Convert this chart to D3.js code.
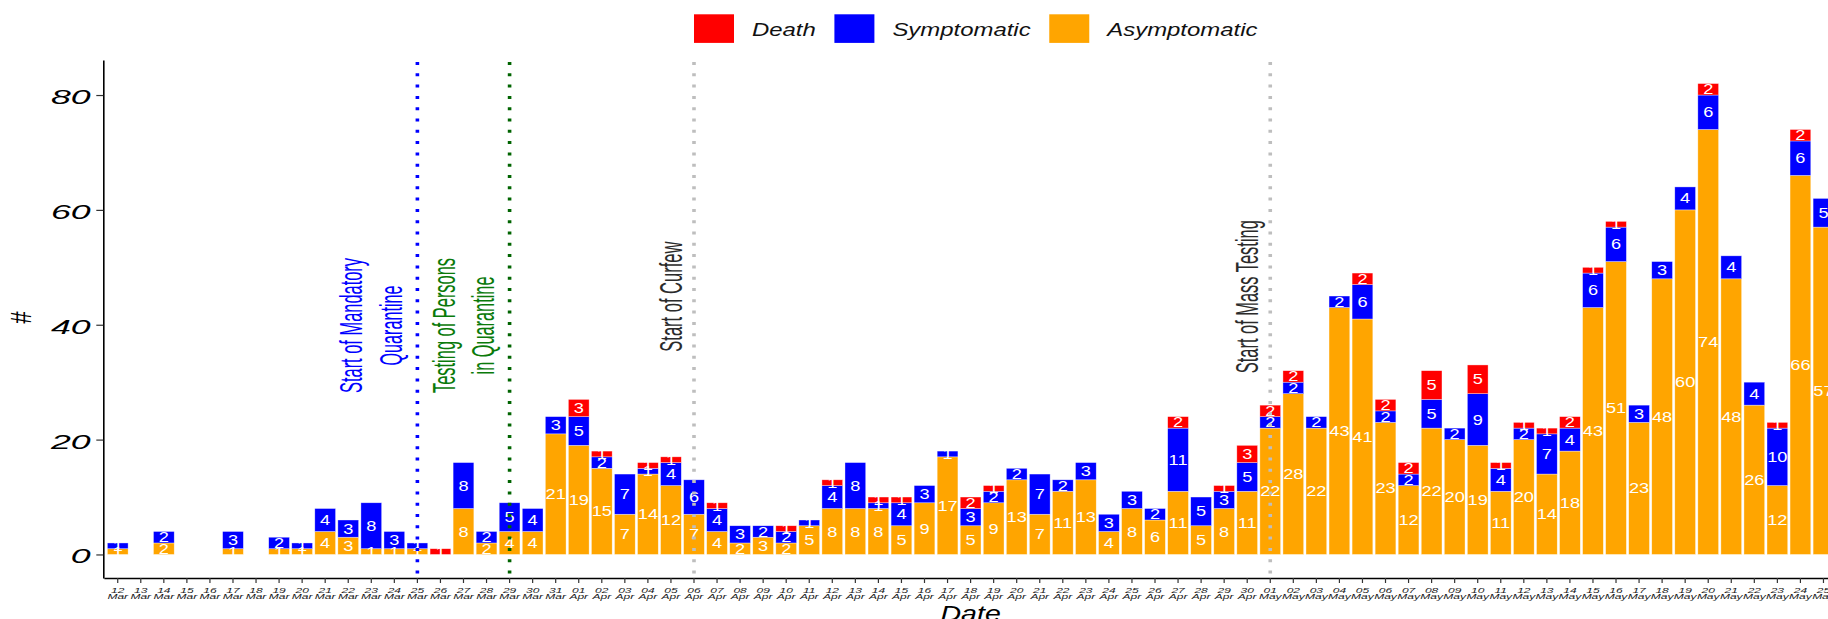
<!DOCTYPE html>
<html><head><meta charset="utf-8">
<script src="https://cdn.jsdelivr.net/npm/d3@7"></script>
<style>
body{margin:0;background:#fff;}
svg{display:block;font-family:"Liberation Sans",Arial,Helvetica,sans-serif;}
</style>
</head><body>
<svg id="chart" width="1828" height="619"></svg>
<script>
// ---------------- DATA ----------------
const dates = [
 "12 Mar","13 Mar","14 Mar","15 Mar","16 Mar","17 Mar","18 Mar","19 Mar","20 Mar","21 Mar",
 "22 Mar","23 Mar","24 Mar","25 Mar","26 Mar","27 Mar","28 Mar","29 Mar","30 Mar","31 Mar",
 "01 Apr","02 Apr","03 Apr","04 Apr","05 Apr","06 Apr","07 Apr","08 Apr","09 Apr","10 Apr",
 "11 Apr","12 Apr","13 Apr","14 Apr","15 Apr","16 Apr","17 Apr","18 Apr","19 Apr","20 Apr",
 "21 Apr","22 Apr","23 Apr","24 Apr","25 Apr","26 Apr","27 Apr","28 Apr","29 Apr","30 Apr",
 "01 May","02 May","03 May","04 May","05 May","06 May","07 May","08 May","09 May","10 May",
 "11 May","12 May","13 May","14 May","15 May","16 May","17 May","18 May","19 May","20 May",
 "21 May","22 May","23 May","24 May","25 May"
];
const asymptomatic = [
 1,0,2,0,0,1,0,1,1,4, 3,1,1,1,0,8,2,4,4,21,
 19,15,7,14,12,7,4,2,3,2, 5,8,8,8,5,9,17,5,9,13, 7,11,13,4,8,6,11,5,8,11,
 22,28,22,43,41,23,12,22,20,19, 11,20,14,18,43,51,23,48,60,74, 48,26,12,66,57
];
const symptomatic = [
 1,0,2,0,0,3,0,2,1,4, 3,8,3,1,0,8,2,5,4,3,
 5,2,7,1,4,6,4,3,2,2, 1,4,8,1,4,3,1,3,2,2, 7,2,3,3,3,2,11,5,3,5,
 2,2,2,2,6,2,2,5,2,9, 4,2,7,4,6,6,3,3,4,6, 4,4,10,6,5
];
const death = [
 0,0,0,0,0,0,0,0,0,0, 0,0,0,0,1,0,0,0,0,0,
 3,1,0,1,1,0,1,0,0,1, 0,1,0,1,1,0,0,2,1,0, 0,0,0,0,0,0,2,0,1,3,
 2,2,0,0,2,2,2,5,0,5, 1,1,1,2,1,1,0,0,0,2, 0,0,1,2,0
];
const seriesKeys = ["Asymptomatic","Symptomatic","Death"];
const legendOrder = ["Death","Symptomatic","Asymptomatic"];
const colors = {Death:"#FF0000", Symptomatic:"#0000FF", Asymptomatic:"#FFA500"};
const yTicks = [0,20,40,60,80];
const eventDates = ["25 Mar","29 Mar","06 Apr","01 May"];
const eventTexts = [["Start of Mandatory","Quarantine"],["Testing of Persons","in Quarantine"],["Start of Curfew"],["Start of Mass Testing"]];
const eventColors = ["#0000FF","#006400","#BEBEBE","#BEBEBE"];
const eventTextColors = ["#0000FF","#0a7a0a","#2b2b2b","#2b2b2b"];

// ---------------- LAYOUT ----------------
const svg = d3.select("#chart");
const P = {left:103.9, right:1837.3, top:60, bottom:578};

const rows = dates.map((d,i)=>({date:d, Asymptomatic:asymptomatic[i], Symptomatic:symptomatic[i], Death:death[i]}));
const stacked = d3.stack().keys(seriesKeys)(rows);

const x = d3.scaleBand().domain(dates).range([P.left,P.right]).paddingInner(0.1).paddingOuter(0.15).align(0.5);
const y = d3.scaleLinear().domain([-4.1, 86.1]).range([P.bottom, P.top]);

// bars
const gBars = svg.append("g");
stacked.forEach(s=>{
  gBars.append("g").selectAll("rect")
    .data(s.filter(d=>d[1]-d[0]>0))
    .join("rect")
    .attr("x", d=>x(d.data.date))
    .attr("width", x.bandwidth())
    .attr("y", d=>y(d[1]))
    .attr("height", d=>y(d[0])-y(d[1]))
    .attr("fill", colors[s.key])
    .attr("stroke","#ffffff").attr("stroke-opacity",0.6).attr("stroke-width",0.6);
});

// value labels
const gLab = svg.append("g");
stacked.forEach(s=>{
  gLab.append("g").selectAll("text")
    .data(s.filter(d=>d[1]-d[0]>0))
    .join("text")
    .attr("transform", d=>`translate(${x(d.data.date)+x.bandwidth()/2},${y((d[0]+d[1])/2)}) scale(1.3,1)`)
    .attr("text-anchor","middle")
    .attr("dy","0.36em")
    .attr("font-size",14)
    .attr("fill","#ffffff")
    .text(d=>d[1]-d[0]);
});

// event lines
const gEv = svg.append("g");
eventDates.forEach((ed,i)=>{
  const cx = x(ed)+x.bandwidth()/2;
  gEv.append("line")
    .attr("x1",cx).attr("x2",cx).attr("y1",P.top+2).attr("y2",P.bottom)
    .attr("stroke",eventColors[i]).attr("stroke-width",3.6)
    .attr("stroke-dasharray","3,8.3");
});

// event annotations (rotated)
const annLen = [[135,80],[135,98],[110],[153]];
eventDates.forEach((ed,i)=>{
  const cx = x(ed)+x.bandwidth()/2;
  const lines = eventTexts[i];
  const cy = lines.length===2 ? 325.5 : 296.7;
  const offs = lines.length===2 ? [-55,-15.5] : [-12.3];
  lines.forEach((t,j)=>{
    svg.append("text")
      .attr("transform",`translate(${cx+offs[j]},${cy}) scale(1.85,1) rotate(-90)`)
      .attr("text-anchor","middle")
      .attr("font-size",16.5)
      .attr("textLength",annLen[i][j])
      .attr("lengthAdjust","spacingAndGlyphs")
      .attr("fill",eventTextColors[i])
      .text(t);
  });
});

// y axis
const gy = svg.append("g").attr("transform",`translate(${P.left-0.6},0)`)
  .call(d3.axisLeft(y).tickValues(yTicks).tickSize(7).tickSizeOuter(0));
gy.select(".domain").attr("stroke","#000").attr("stroke-width",1.6);
gy.selectAll(".tick line").attr("stroke","#333").attr("stroke-width",1.2);
gy.selectAll(".tick text")
  .attr("x",null).attr("dy",null)
  .attr("transform","translate(-12.6,8.5) scale(1.7,1)")
  .attr("text-anchor","end")
  .attr("font-size",21).attr("font-style","italic")
  .attr("font-family","'Liberation Sans',Arial,sans-serif")
  .attr("fill","#000");

// x axis
const gx = svg.append("g").attr("transform",`translate(0,${P.bottom})`)
  .call(d3.axisBottom(x).tickSize(5).tickSizeOuter(0).tickFormat(""));
gx.select(".domain").attr("stroke","#000").attr("stroke-width",1.6);
gx.selectAll(".tick line").attr("stroke","#333").attr("stroke-width",1.2);
gx.selectAll(".tick").each(function(d){
  const parts = d.split(" ");
  const g = d3.select(this);
  g.append("text").attr("transform","translate(0,14.5) scale(1.6,1)")
    .attr("text-anchor","middle").attr("font-size",7.5).attr("font-style","italic")
    .attr("font-family","'Liberation Sans',Arial,sans-serif").attr("fill","#1a1a1a").text(parts[0]);
  g.append("text").attr("transform","translate(0,21.3) scale(1.6,1)")
    .attr("text-anchor","middle").attr("font-size",7.5).attr("font-style","italic")
    .attr("font-family","'Liberation Sans',Arial,sans-serif").attr("fill","#1a1a1a").text(parts[1]);
});

// axis titles
svg.append("text")
  .attr("transform",`translate(${(P.left+P.right)/2},621) scale(1.3,1)`)
  .attr("text-anchor","middle").attr("font-size",22).attr("font-style","italic")
  .attr("fill","#000").text("Date");
svg.append("text")
  .attr("transform","translate(31,318) scale(1.3,1) rotate(-90)")
  .attr("text-anchor","middle").attr("font-size",22).attr("font-style","italic")
  .attr("fill","#000").text("#");

// legend
const gLeg = svg.append("g");
let lx = 694;
legendOrder.forEach(k=>{
  gLeg.append("rect").attr("x",lx).attr("y",14.3).attr("width",40).attr("height",28.6).attr("fill",colors[k]);
  const t = gLeg.append("text").attr("font-size",18).attr("font-style","italic").attr("fill","#111").text(k);
  const w = t.node().getComputedTextLength()*1.33;
  t.attr("transform",`translate(${lx+58},36) scale(1.33,1)`);
  lx = lx + 58 + w + 18.5;
});
</script>
</body></html>
